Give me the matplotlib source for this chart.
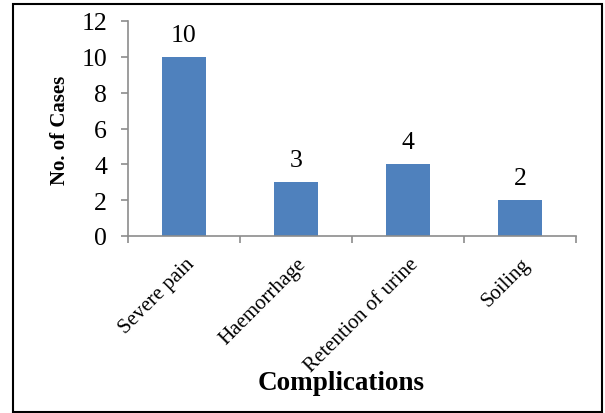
import matplotlib
matplotlib.use("Agg")
import matplotlib.pyplot as plt
import matplotlib.transforms as mtransforms
from matplotlib.patches import Rectangle

categories = ["Severe pain", "Haemorrhage", "Retention of urine", "Soiling"]
values = [10, 3, 4, 2]
yticks = [0, 2, 4, 6, 8, 10, 12]

plt.rcParams['font.family'] = ['Liberation Serif', 'DejaVu Serif']

fig = plt.figure(figsize=(6.05, 4.14), dpi=100)
ax = fig.add_axes([128/605, 1-237/414, (576-128)/605, (237-22)/414])

x = list(range(len(categories)))
bars = ax.bar(x, values, width=0.39, color='#4F81BD', zorder=2)
ax.set_xlim(-0.5, len(categories)-0.5)
ax.set_ylim(0, 12)
ax.set_yticks(yticks)
ax.set_yticklabels([str(v) for v in yticks], fontsize=18.5)

for sp in ['top', 'right']:
    ax.spines[sp].set_visible(False)
for sp in ['left', 'bottom']:
    ax.spines[sp].set_color('#8C8C8C')
    ax.spines[sp].set_linewidth(1.2)

ax.tick_params(axis='y', direction='out', length=5, width=1.2, color='#8C8C8C', pad=10)
ax.set_xticks(x)
ax.set_xticklabels(categories, fontsize=15, rotation=45, ha='right', rotation_mode='anchor')
ax.tick_params(axis='x', which='major', length=0, pad=13)
ax.set_xticks([i - 0.5 for i in range(len(categories)+1)], minor=True)
ax.tick_params(axis='x', which='minor', direction='out', length=5, width=1.2, color='#8C8C8C')
offset = mtransforms.ScaledTranslation(1/100, 0, fig.dpi_scale_trans)
for lab in ax.get_xticklabels():
    lab.set_transform(lab.get_transform() + offset)

for xi, v in zip(x, values):
    ax.annotate(str(v), (xi, v), xytext=(0, 8), textcoords='offset points',
                ha='center', va='bottom', fontsize=18.5)

fig.text(60/605, 1-130/414, "No. of Cases", rotation=90, ha='center', va='center',
         fontsize=15, fontweight='bold')
fig.text(341/605, 1-390/414, "Complications", ha='center', va='baseline',
         fontsize=19.5, fontweight='bold')

fig.patches.append(Rectangle((13/605, 1/414), (602-13)/605, (413-5)/414,
                             transform=fig.transFigure, fill=False,
                             edgecolor='black', linewidth=1.5))

fig.savefig("out.png", dpi=100)
